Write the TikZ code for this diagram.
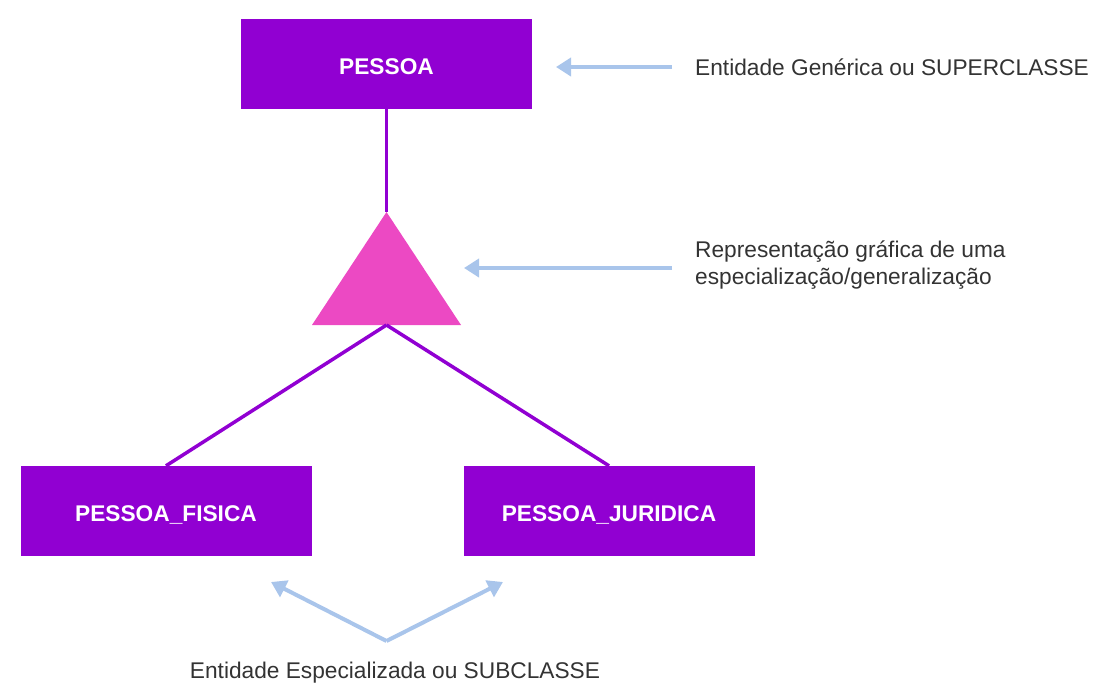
\documentclass[tikz,border=0pt]{standalone}
\usepackage{fontspec}
\setmainfont{Liberation Sans}
\usetikzlibrary{arrows.meta}
\definecolor{entpurple}{HTML}{9100D2}
\definecolor{genpink}{HTML}{EC49C3}
\definecolor{noteblue}{HTML}{A9C5EB}
\definecolor{notegray}{HTML}{333333}

\tikzset{
  entity/.style={fill=entpurple, minimum width=291pt, minimum height=90pt, inner sep=0pt,
    text=white, text height=21pt, text depth=0pt, font=\fontsize{22.7}{27}\selectfont\bfseries},
  link/.style={draw=entpurple, line width=3.5pt},
  note/.style={draw=noteblue, line width=4pt, -{Triangle[length=15pt,width=18pt]}},
  caption/.style={text=notegray, inner sep=0pt, align=left, font=\fontsize{22.7}{27}\selectfont}
}

\begin{document}
\begin{tikzpicture}[x=1pt,y=-1pt]
\useasboundingbox (0,0) rectangle (1104,696);
% entidades
\node[entity] (pessoa) at (386.5,64) {PESSOA};
\node[entity] (fisica) at (166,511) {PESSOA\_FISICA};
\node[entity] (juridica) at (609,511) {PESSOA\_JURIDICA};
% especializacao
\coordinate (apex) at (386.5,212);
\coordinate (lbase) at (312,325);
\coordinate (rbase) at (461,325);
\coordinate (base) at (386.5,325);
\fill[genpink] (apex) -- (rbase) -- (lbase) -- cycle;
\path[link] (pessoa.south) -- (apex);
\path[link] (base) -- (fisica.north);
\path[link] (base) -- (juridica.north);
% legendas
\node[caption, anchor=base west] (supercap) at (695,75) {Entidade Genérica ou SUPERCLASSE};
\node[caption, anchor=base west] (specap) at (695,284) {Representação gráfica de uma\\especialização/generalização};
\node[caption, anchor=base] (subcap) at (395,678) {Entidade Especializada ou SUBCLASSE};
\coordinate (suptail) at (672,67);
\coordinate (suptip) at (556,67);
\coordinate (spetail) at (672,268);
\coordinate (spetip) at (464,268);
\coordinate (subvertex) at (386.5,641);
\coordinate (subleft) at (271,582);
\coordinate (subright) at (503,582);
\path[note] (suptail) -- (suptip);
\path[note] (spetail) -- (spetip);
\path[note] (subvertex) -- (subleft);
\path[note] (subvertex) -- (subright);
\end{tikzpicture}
\end{document}
